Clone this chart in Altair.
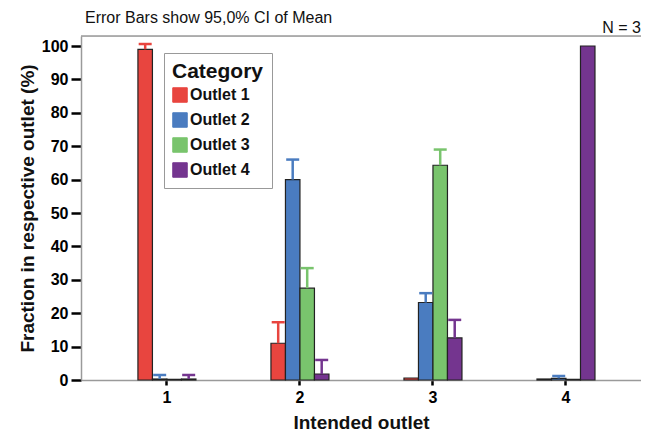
import altair as alt
import pandas as pd

intended = ["1", "2", "3", "4"]
outlets = ["Outlet 1", "Outlet 2", "Outlet 3", "Outlet 4"]
colors = ["#e8453f", "#4a7cc0", "#79c46d", "#74358f"]
yticks = [0, 10, 20, 30, 40, 50, 60, 70, 80, 90, 100]

outlet1 = [99.0, 11.0, 0.6, 0.3]
outlet1_hi = [100.6, 17.3, 0.6, 0.3]
outlet2 = [0.3, 60.0, 23.2, 0.5]
outlet2_hi = [1.5, 66.0, 26.0, 1.2]
outlet3 = [0.2, 27.5, 64.3, 0.2]
outlet3_hi = [0.2, 33.5, 69.0, 0.2]
outlet4 = [0.3, 1.8, 12.6, 100.0]
outlet4_hi = [1.5, 6.0, 18.0, 100.0]

vals = [outlet1, outlet2, outlet3, outlet4]
his = [outlet1_hi, outlet2_hi, outlet3_hi, outlet4_hi]
rows = []
for o, v, h in zip(outlets, vals, his):
    for i, a, b in zip(intended, v, h):
        rows.append({"Intended": i, "Category": o, "value": a, "hi": b})
df = pd.DataFrame(rows)

W, H = 560, 344
YMAX = 103

xscale = alt.Scale(paddingInner=0.564, paddingOuter=0.387, align=0.553)
xenc = alt.X("Intended:N", scale=xscale, sort=intended,
             axis=alt.Axis(title="Intended outlet", labelAngle=0, labelFontSize=16,
                           labelFontWeight="bold", labelColor="black", labelPadding=4,
                           tickSize=5, tickWidth=2.5, tickColor="black",
                           domainColor="#9a9a9a", domainWidth=1.5,
                           titleFontSize=19, titleFontWeight="bold", titleColor="#111",
                           titlePadding=8))
xoff = alt.XOffset("Category:N", sort=outlets, scale=alt.Scale(paddingInner=0, paddingOuter=0))
color = alt.Color("Category:N", sort=outlets,
                  scale=alt.Scale(domain=outlets, range=colors),
                  legend=alt.Legend(title="Category", orient="none", legendX=83, legendY=17,
                                    strokeColor="#999", fillColor="white", padding=8,
                                    titleFontSize=21, titleFontWeight="bold", titleColor="#111",
                                    titlePadding=5,
                                    labelFontSize=16, labelFontWeight="bold", labelColor="#111",
                                    symbolType="square", symbolSize=210,
                                    symbolStrokeColor="#222", symbolStrokeWidth=1,
                                    symbolOpacity=1, rowPadding=5, labelOffset=2))
yscale = alt.Scale(domain=[0, YMAX], nice=False)
yenc = alt.Y("value:Q", scale=yscale,
             axis=alt.Axis(title="Fraction in respective outlet (%)", values=yticks,
                           tickCount=11, labelOverlap=False,
                           grid=False, labelFontSize=16, labelFontWeight="bold", labelColor="black",
                           labelPadding=3, tickSize=10, tickWidth=2.5, tickColor="black",
                           domainColor="#9a9a9a", domainWidth=1.5,
                           titleFontSize=19, titleFontWeight="bold", titleColor="#111",
                           titlePadding=4))

bars = alt.Chart(df).mark_bar(stroke="#222", strokeWidth=1.2, opacity=1).encode(
    x=xenc, xOffset=xoff, y=yenc, color=color)

err = alt.Chart(df).transform_filter("datum.hi > datum.value + 0.2")
rule = err.mark_rule(strokeWidth=2.5).encode(
    x=alt.X("Intended:N", sort=intended, scale=xscale), xOffset=xoff,
    y=alt.Y("value:Q", scale=yscale), y2="hi:Q", color=alt.Color("Category:N", sort=outlets, legend=None))
cap = err.mark_tick(thickness=2.5, size=13, opacity=1).encode(
    x=alt.X("Intended:N", sort=intended, scale=xscale), xOffset=xoff,
    y=alt.Y("hi:Q", scale=yscale), color=alt.Color("Category:N", sort=outlets, legend=None))

topline = alt.Chart(pd.DataFrame({"a": [0]})).mark_rule(color="#9a9a9a", strokeWidth=1.5).encode(
    x=alt.value(0), x2=alt.value(W), y=alt.value(0))
note = alt.Chart(pd.DataFrame({"t": ["Error Bars show 95,0% CI of Mean"]})).mark_text(
    align="left", baseline="middle", fontSize=16, font="Liberation Sans", color="#111").encode(
    text="t:N", x=alt.value(4), y=alt.value(-18))
nlab = alt.Chart(pd.DataFrame({"t": ["N = 3"]})).mark_text(
    align="right", baseline="middle", fontSize=16, font="Liberation Sans", color="#111").encode(
    text="t:N", x=alt.value(W), y=alt.value(-8))

chart = alt.layer(topline, bars, rule, cap, note, nlab).properties(
    width=W, height=H,
    autosize=alt.AutoSizeParams(type="none"),
    padding={"left": 73, "top": 28, "right": 0, "bottom": 54},
).configure_view(stroke=None).configure(font="Liberation Sans")

chart.save("out.html", embed_options={"renderer": "svg", "actions": False})
